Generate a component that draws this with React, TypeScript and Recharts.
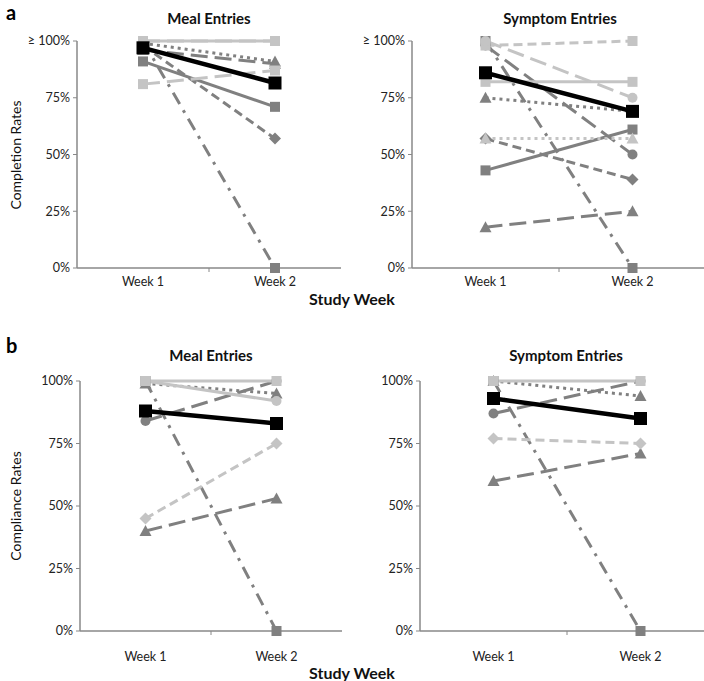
import React from "react";
import { LineChart, Line, XAxis, YAxis } from "recharts";

const weeks = ["Week 1", "Week 2"];
const yTicks = [0, 25, 50, 75, 100];

// values per participant series: [Week 1, Week 2] (%)
const mealCompletion: Record<string, number[]> = {
  p1: [100, 0],
  p2: [91, 71],
  p3: [98, 57],
  p4: [96, 90],
  p5: [99, 91],
  p11: [81, 87],
  p9: [100, 100],
  p7: [100, 100],
  mean: [97, 81.5],
};
const symptomCompletion: Record<string, number[]> = {
  p1: [100, 0],
  p2: [43, 61],
  p3: [57, 39],
  p4: [18, 25],
  p5: [75, 69],
  p6: [98, 50],
  p7: [82, 82],
  p8: [98, 100],
  p9: [100, 75],
  p10: [57, 57],
  mean: [86, 69],
};
const mealCompliance: Record<string, number[]> = {
  p1: [100, 0],
  p4: [40, 53],
  p5: [99, 95],
  p6: [84, 100],
  p12: [45, 75],
  p14: [100, 92],
  p7: [100, 100],
  mean: [88, 83],
};
const symptomCompliance: Record<string, number[]> = {
  p1: [100, 0],
  p4: [60, 71],
  p5: [100, 94],
  p6: [87, 100],
  p12: [77, 75],
  p7: [100, 100],
  mean: [93, 85],
};

const DARK = "#808080";
const LIGHT = "#c4c4c4";
type Style = { color: string; dash?: string; shape: string; width: number; size: number };
const styles: Record<string, Style> = {
  p1: { color: DARK, dash: "13 7 3 7", shape: "square", width: 3, size: 10 },
  p2: { color: DARK, shape: "square", width: 3, size: 10 },
  p3: { color: DARK, dash: "9 5", shape: "diamond", width: 3, size: 10 },
  p4: { color: DARK, dash: "17 7", shape: "triangle", width: 3, size: 10 },
  p5: { color: DARK, dash: "3 4", shape: "triangle", width: 3, size: 10 },
  p6: { color: DARK, dash: "17 7", shape: "circle", width: 3, size: 10 },
  p7: { color: LIGHT, shape: "square", width: 3, size: 10 },
  p8: { color: LIGHT, dash: "9 5", shape: "square", width: 3, size: 10 },
  p9: { color: LIGHT, dash: "17 7", shape: "circle", width: 3, size: 10 },
  p10: { color: LIGHT, dash: "3 4", shape: "triangle", width: 3, size: 10 },
  p11: { color: LIGHT, dash: "17 7", shape: "square", width: 3, size: 10 },
  p12: { color: LIGHT, dash: "9 5", shape: "diamond", width: 3, size: 10 },
  p14: { color: LIGHT, shape: "circle", width: 3, size: 10 },
  mean: { color: "#000000", shape: "square", width: 4.5, size: 13 },
};

const FONT = "Lato, 'Open Sans', sans-serif";

function makeDot(st: Style) {
  return (props: any) => {
    const { cx, cy, index } = props;
    if (cx == null || cy == null) return <g key={`d${index}`} />;
    const s = st.size;
    const h = s / 2;
    let el;
    if (st.shape === "square") el = <rect x={cx - h} y={cy - h} width={s} height={s} fill={st.color} />;
    else if (st.shape === "circle") el = <circle cx={cx} cy={cy} r={h} fill={st.color} />;
    else if (st.shape === "diamond")
      el = <polygon points={`${cx},${cy - h - 1} ${cx + h + 1},${cy} ${cx},${cy + h + 1} ${cx - h - 1},${cy}`} fill={st.color} />;
    else el = <polygon points={`${cx},${cy - h - 1} ${cx + h + 1},${cy + h} ${cx - h - 1},${cy + h}`} fill={st.color} />;
    return <g key={`d${index}`}>{el}</g>;
  };
}

function buildRows(values: Record<string, number[]>) {
  return weeks.map((w, i) => {
    const row: any = { x: i + 0.5, week: w };
    Object.keys(values).forEach((k) => (row[k] = values[k][i]));
    return row;
  });
}

function makeWeekTick(labelOffset: number) {
  return (props: any) => {
    const { x, y, payload } = props;
    const v = payload.value;
    if (v === 1) return <line x1={x} y1={y} x2={x} y2={y + 4} stroke="#888" strokeWidth={1} />;
    const label = v < 1 ? weeks[0] : weeks[1];
    return (
      <text x={x} y={y + labelOffset} textAnchor="middle" dominantBaseline="middle" fontSize={12.5} fill="#222" fontFamily={FONT}>
        {label}
      </text>
    );
  };
}

function Panel({
  values, left, top, width, height, geq, labelOffset,
}: { values: Record<string, number[]>; left: number; top: number; width: number; height: number; geq: boolean; labelOffset: number }) {
  const rows = buildRows(values);
  const keys = Object.keys(values);
  return (
    <div style={{ position: "absolute", left, top }}>
      <LineChart width={width} height={height} data={rows} margin={{ top: 41, right: 4, left: 17, bottom: 2 }} style={{ overflow: "visible" }}>
        <XAxis
          type="number"
          dataKey="x"
          domain={[0, 2]}
          ticks={[0.5, 1, 1.5]}
          tickSize={0}
          tickMargin={0}
          tickLine={false}
          height={30}
          axisLine={{ stroke: "#888", strokeWidth: 1.5 }}
          tick={makeWeekTick(labelOffset)}
          interval={0}
        />
        <YAxis
          type="number"
          domain={[0, 100]}
          ticks={yTicks}
          width={60}
          tickSize={4}
          tickMargin={3}
          axisLine={{ stroke: "#888", strokeWidth: 1.5 }}
          tickLine={{ stroke: "#888" }}
          tick={{ fontSize: 12.5, fill: "#222", fontFamily: FONT }}
          tickFormatter={(v: number) => (v === 100 && geq ? "≥ 100%" : `${v}%`)}
        />
        {keys.map((k) => {
          const st = styles[k];
          return (
            <Line
              key={k}
              dataKey={k}
              stroke={st.color}
              strokeWidth={st.width}
              strokeDasharray={st.dash}
              dot={makeDot(st)}
              activeDot={false}
              isAnimationActive={false}
              type="linear"
            />
          );
        })}
      </LineChart>
    </div>
  );
}

const textStyle = (x: number, y: number, size: number, bold: boolean): React.CSSProperties => ({
  position: "absolute",
  left: x,
  top: y,
  transform: "translate(-50%, -50%)",
  fontSize: size,
  fontWeight: bold ? 700 : 400,
  fontFamily: FONT,
  color: "#111",
  whiteSpace: "nowrap",
});

export default function App() {
  return (
    <div style={{ position: "absolute", left: 0, top: 0, width: 704, height: 681, overflow: "hidden", background: "#fff" }}>
      <div style={{ position: "absolute", left: 6, top: 0, fontSize: 20, fontWeight: 700, fontFamily: FONT }}>a</div>
      <div style={{ position: "absolute", left: 6, top: 333, fontSize: 20, fontWeight: 700, fontFamily: FONT }}>b</div>

      <div style={textStyle(209, 18, 15, true)}>Meal Entries</div>
      <div style={textStyle(560, 18, 15, true)}>Symptom Entries</div>
      <div style={textStyle(211, 355, 15, true)}>Meal Entries</div>
      <div style={textStyle(566, 355, 15, true)}>Symptom Entries</div>

      <div style={{ ...textStyle(15, 155, 14, false), transform: "translate(-50%, -50%) rotate(-90deg)" }}>Completion Rates</div>
      <div style={{ ...textStyle(15, 506, 14, false), transform: "translate(-50%, -50%) rotate(-90deg)" }}>Compliance Rates</div>

      <Panel values={mealCompletion} left={0} top={0} width={345} height={300} geq={true} labelOffset={15} />
      <Panel values={symptomCompletion} left={335} top={0} width={375} height={300} geq={true} labelOffset={15} />
      <Panel values={mealCompliance} left={3} top={340} width={343} height={323} geq={false} labelOffset={27} />
      <Panel values={symptomCompliance} left={343} top={340} width={375} height={323} geq={false} labelOffset={27} />

      <div style={textStyle(352, 298, 16, true)}>Study Week</div>
      <div style={textStyle(352, 672, 16, true)}>Study Week</div>
    </div>
  );
}
